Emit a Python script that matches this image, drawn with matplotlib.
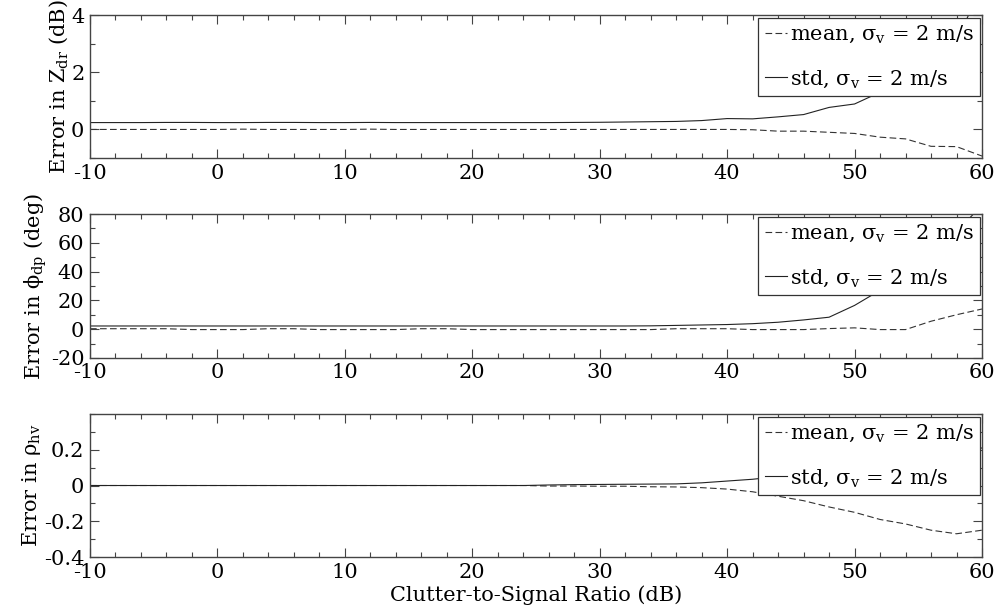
import matplotlib
matplotlib.use("Agg")
import matplotlib.pyplot as plt
from matplotlib.ticker import MultipleLocator, FixedLocator

plt.rcParams["font.family"] = ["DejaVu Serif"]
plt.rcParams["mathtext.fontset"] = "dejavuserif"
plt.rcParams["font.size"] = 15

# Clutter-to-signal ratio (dB)
csr = [-10, -8, -6, -4, -2, 0, 2, 4, 6, 8, 10, 12, 14, 16, 18, 20, 22, 24,
       26, 28, 30, 32, 34, 36, 38, 40, 42, 44, 46, 48, 50, 52, 54, 56, 58, 60]

# Zdr error (dB)
zdr_mean = [0.0, 0.0, 0.0, 0.0, 0.0, 0.0, 0.01, 0.0, 0.0, 0.0, 0.0, 0.01, 0.0, 0.0,
            0.0, 0.0, 0.0, 0.0, 0.0, 0.0, 0.0, 0.0, 0.0, 0.0, 0.0, 0.0, -0.01, -0.06,
            -0.06, -0.1, -0.14, -0.27, -0.33, -0.59, -0.6, -0.93]
zdr_std = [0.24, 0.24, 0.24, 0.245, 0.245, 0.24, 0.24, 0.245, 0.245, 0.24, 0.24, 0.245,
           0.24, 0.24, 0.24, 0.24, 0.24, 0.24, 0.24, 0.245, 0.25, 0.26, 0.27, 0.28,
           0.31, 0.38, 0.37, 0.44, 0.52, 0.77, 0.89, 1.3, 1.8, 2.4, 3.1, 5.0]

# Phidp error (deg)
phi_mean = [0.3, 0.3, 0.3, 0.3, -0.3, -0.3, -0.3, 0.3, 0.3, -0.3, -0.3, -0.3, -0.3, 0.3,
            0.3, -0.3, -0.3, -0.3, -0.3, -0.3, -0.3, -0.3, -0.3, 0.3, 0.3, 0.3, -0.3,
            -0.3, -0.3, 0.4, 0.9, -0.3, -0.3, 5.5, 10.0, 14.0]
phi_std = [2.2, 2.2, 2.2, 2.2, 2.2, 2.2, 2.2, 2.2, 2.2, 2.2, 2.2, 2.2, 2.2, 2.2, 2.2,
           2.2, 2.2, 2.2, 2.2, 2.2, 2.2, 2.2, 2.3, 2.6, 2.9, 3.2, 3.8, 4.8, 6.4, 8.3,
           16.5, 27.0, 39.0, 53.0, 68.0, 86.0]

# rho_hv error
rho_mean = [0.0, 0.0, 0.0, 0.0, 0.0, 0.0, 0.0, 0.0, 0.0, 0.0, 0.0, 0.0, 0.0, 0.0, 0.0,
            0.0, 0.0, 0.0, -0.003, -0.003, -0.004, -0.004, -0.007, -0.008, -0.012,
            -0.02, -0.035, -0.06, -0.085, -0.12, -0.15, -0.19, -0.215, -0.25, -0.27,
            -0.25]
rho_std = [0.0, 0.0, 0.0, 0.0, 0.0, 0.0, 0.0, 0.0, 0.0, 0.0, 0.0, 0.0, 0.0, 0.0, 0.0,
           0.0, 0.0, 0.0, 0.003, 0.005, 0.006, 0.007, 0.008, 0.009, 0.015, 0.025, 0.035,
           0.05, 0.07, 0.09, 0.11, 0.13, 0.15, 0.17, 0.19, 0.21]

ylabels = [r"Error in $\mathrm{Z_{dr}}$ (dB)",
           r"Error in $\mathrm{\phi_{dp}}$ (deg)",
           r"Error in $\mathrm{\rho_{hv}}$"]
mean_label = r"mean, $\mathrm{\sigma_v}$ = 2 m/s"
std_label = r"std, $\mathrm{\sigma_v}$ = 2 m/s"
xlabel = "Clutter-to-Signal Ratio (dB)"
xticks = [-10, 0, 10, 20, 30, 40, 50, 60]

panels = [
    dict(mean=zdr_mean, std=zdr_std, ylim=(-1, 4), yticks=[0, 2, 4], yminor=1,
         rect=[0.09, 0.743, 0.892, 0.2326]),
    dict(mean=phi_mean, std=phi_std, ylim=(-20, 80), yticks=[-20, 0, 20, 40, 60, 80],
         yminor=10, rect=[0.09, 0.418, 0.892, 0.234]),
    dict(mean=rho_mean, std=rho_std, ylim=(-0.4, 0.4), yticks=[-0.4, -0.2, 0, 0.2],
         yminor=0.1, rect=[0.09, 0.0943, 0.892, 0.2325]),
]

fig = plt.figure(figsize=(10, 6.15), dpi=100)
spine_col = "#444444"

for i, p in enumerate(panels):
    ax = fig.add_axes(p["rect"])
    ax.plot(csr, p["mean"], color="#333333", lw=0.8, dashes=(6, 3), label=mean_label)
    ax.plot(csr, p["std"], color="#222222", lw=0.8, label=std_label)
    ax.set_xlim(-10, 60)
    ax.set_ylim(*p["ylim"])
    ax.xaxis.set_major_locator(FixedLocator(xticks))
    ax.xaxis.set_minor_locator(MultipleLocator(2))
    ax.yaxis.set_major_locator(FixedLocator(p["yticks"]))
    ax.yaxis.set_minor_locator(MultipleLocator(p["yminor"]))
    ax.set_xticklabels([str(v) for v in xticks])
    ax.set_yticklabels([("%g" % v) for v in p["yticks"]])
    ax.tick_params(which="both", direction="in", top=True, right=True,
                   color=spine_col, width=0.8)
    ax.tick_params(which="major", length=6.5, pad=4)
    ax.tick_params(which="minor", length=3.5)
    for s in ax.spines.values():
        s.set_color(spine_col)
        s.set_linewidth(1.0)
    ax.set_ylabel(ylabels[i], labelpad=1)
    leg = ax.legend(loc="upper right", fancybox=False, framealpha=1,
                    edgecolor="#333333", borderaxespad=0.12, handlelength=1.1,
                    handletextpad=0.1, labelspacing=1.1, borderpad=0.3)
    leg.get_frame().set_linewidth(0.9)
    if i == 2:
        ax.set_xlabel(xlabel, labelpad=3)

fig.savefig("out.png", dpi=100)
